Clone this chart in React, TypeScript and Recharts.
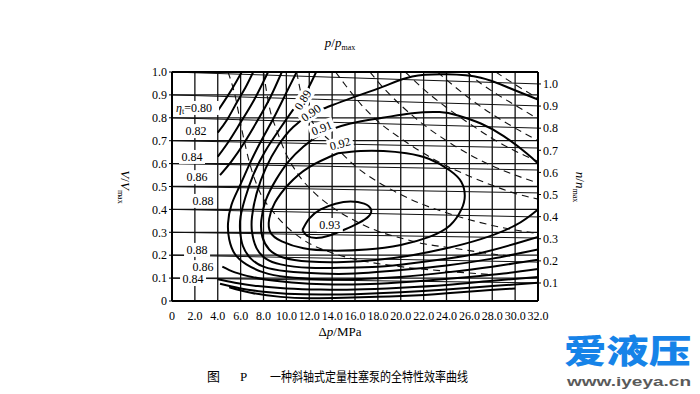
import React from 'react';
import { ComposedChart, Line, XAxis, YAxis, CartesianGrid, ReferenceDot } from 'recharts';

type Pt = [number, number];

// axes
const dpTicks = [0, 2, 4, 6, 8, 10, 12, 14, 16, 18, 20, 22, 24, 26, 28, 30, 32];
const vTicks = [0, 0.1, 0.2, 0.3, 0.4, 0.5, 0.6, 0.7, 0.8, 0.9, 1.0];
const nTicks = [0.1, 0.2, 0.3, 0.4, 0.5, 0.6, 0.7, 0.8, 0.9, 1.0];
const pTickAt = [4.8, 8.0, 11.1, 14.3, 17.3, 20.4, 23.3, 25.7];
const pTickText = ['0.2', '0.3', '0.4', '0.5', '0.6', '0.7', '0.8', '0.9'];

// n/nmax lines: V/Vmax at dp = 0 and at dp = 32
const nLineStart = [0.1, 0.2, 0.3, 0.4, 0.5, 0.6, 0.7, 0.8, 0.9, 1.0];
const nLineEnd = [0.079, 0.17, 0.275, 0.367, 0.472, 0.572, 0.668, 0.755, 0.852, 0.948];

// efficiency contours (dp MPa, V/Vmax)
const eta80: Pt[] = [[4.0, 0.83], [4.6, 0.875], [5.3, 0.93], [6.1, 1.0]];
const eta80low: Pt[] = [[5, 0.06], [7, 0.035], [9.5, 0.018], [12, 0.012], [15, 0.014], [19, 0.02], [23, 0.03], [27, 0.045], [30, 0.055]];
const eta82: Pt[] = [[4.0, 0.735], [4.8, 0.79], [5.7, 0.87], [6.4, 0.93], [7.1, 1.0]];
const eta82low: Pt[] = [[4.2, 0.075], [6, 0.055], [8, 0.04], [10, 0.032], [13, 0.028], [16, 0.03], [20, 0.038], [24, 0.05], [28, 0.065], [32, 0.08]];
const eta84: Pt[] = [[4.0, 0.63], [5.0, 0.7], [6.0, 0.78], [7.2, 0.88], [8.4, 1.0]];
const eta84low: Pt[] = [[4.0, 0.095], [5.5, 0.08], [7.5, 0.065], [10, 0.055], [13, 0.05], [16, 0.05], [20, 0.058], [24, 0.07], [28, 0.088], [32, 0.105]];
const eta86: Pt[] = [[4.2, 0.55], [5.2, 0.61], [6.3, 0.69], [7.5, 0.79], [8.6, 0.89], [9.6, 1.0]];
const eta86low: Pt[] = [[4.4, 0.15], [5.5, 0.125], [7, 0.105], [9, 0.088], [12, 0.075], [15, 0.072], [18, 0.075], [22, 0.088], [26, 0.105], [29, 0.12], [32, 0.14]];
const eta88: Pt[] = [
  [10.9, 1.0], [9.9, 0.9], [8.9, 0.8], [7.8, 0.7], [6.8, 0.6], [5.9, 0.5], [5.2, 0.42], [4.9, 0.34],
  [5.0, 0.27], [5.5, 0.205], [6.5, 0.16], [8, 0.125], [10, 0.105], [13, 0.095], [16, 0.095],
  [20, 0.105], [24, 0.125], [28, 0.15], [32, 0.18],
];
const eta89: Pt[] = [
  [12.6, 1.0], [11.8, 0.92], [10.8, 0.85], [9.4, 0.75], [8.1, 0.65], [7.1, 0.55], [6.4, 0.45], [6.0, 0.37],
  [5.95, 0.31], [6.2, 0.24], [6.9, 0.185], [8, 0.15], [10, 0.13], [13, 0.12], [16, 0.12], [20, 0.135],
  [24, 0.155], [28, 0.185], [32, 0.225],
];
const eta90: Pt[] = [
  [32, 0.88], [29.5, 0.93], [27, 0.975], [24, 0.99], [21, 0.98], [18.4, 0.935], [15.6, 0.885], [13.5, 0.845],
  [12.1, 0.815], [10.6, 0.76], [9.3, 0.68], [8.2, 0.58], [7.4, 0.47], [7.0, 0.37], [7.0, 0.3], [7.4, 0.23],
  [8.2, 0.185], [9.5, 0.16], [12, 0.145], [15, 0.145], [18, 0.15], [21, 0.165], [24, 0.185], [27, 0.21],
  [30, 0.25], [32, 0.28],
];
const eta91: Pt[] = [
  [32, 0.6], [31, 0.645], [29, 0.72], [27, 0.775], [25, 0.81], [23.4, 0.825], [21, 0.82], [18.4, 0.8],
  [15.6, 0.775], [13.1, 0.73], [11.5, 0.675], [10.2, 0.61], [9.1, 0.53], [8.2, 0.44], [7.8, 0.35],
  [7.9, 0.28], [8.5, 0.225], [9.7, 0.19], [12, 0.172], [15, 0.17], [18, 0.18], [21, 0.2], [24, 0.23],
  [27, 0.27], [30, 0.33], [32, 0.4],
];
const eta92: Pt[] = [
  [14.5, 0.645], [16.5, 0.655], [18.5, 0.655], [20.5, 0.645], [22.5, 0.62], [24.3, 0.57], [25.3, 0.52],
  [25.6, 0.46], [25.3, 0.4], [24.3, 0.33], [22.5, 0.28], [20, 0.245], [17, 0.225], [14, 0.22], [11.5, 0.23],
  [9.6, 0.26], [8.6, 0.3], [8.5, 0.36], [9, 0.43], [10.2, 0.51], [12, 0.585], [14.5, 0.645],
];
const eta93: Pt[] = [
  [11.4, 0.31], [12, 0.36], [13, 0.4], [14.3, 0.425], [15.6, 0.435], [16.8, 0.425], [17.4, 0.4], [17.2, 0.37],
  [16.3, 0.34], [15, 0.31], [13.7, 0.285], [12.6, 0.275], [11.8, 0.285], [11.4, 0.31],
];

// constant power lines (dashed)
const pow02: Pt[] = [[4.9, 1.0], [5.5, 0.9], [6.1, 0.75], [6.8, 0.6], [7.6, 0.485], [9, 0.38], [11.4, 0.27], [14, 0.21], [16.2, 0.18], [20, 0.15], [24, 0.13], [28, 0.115]];
const pow03: Pt[] = [[8.0, 1.0], [8.5, 0.85], [9.2, 0.74], [10, 0.64], [11, 0.555], [12.5, 0.47], [14, 0.41], [16, 0.35], [18, 0.305], [20, 0.275], [22, 0.25], [24, 0.235], [26, 0.22], [28, 0.205], [30, 0.195]];
const pow04: Pt[] = [[10.9, 1.0], [11.4, 0.88], [12.3, 0.78], [13.8, 0.7], [16, 0.59], [18, 0.52], [20, 0.465], [22, 0.42], [24, 0.385], [26, 0.355], [28, 0.33], [30, 0.31], [32, 0.295]];
const pow05: Pt[] = [[14.3, 1.0], [15.2, 0.94], [16.5, 0.86], [18, 0.785], [20, 0.71], [22, 0.645], [24, 0.59], [26, 0.545], [28, 0.505], [30, 0.47], [32, 0.445]];
const pow06: Pt[] = [[17.3, 1.0], [18.5, 0.93], [20, 0.855], [22, 0.77], [24, 0.7], [26, 0.64], [28, 0.59], [30, 0.55], [32, 0.515]];
const pow07: Pt[] = [[20.4, 1.0], [22, 0.925], [24, 0.845], [26, 0.775], [28, 0.71], [30, 0.655], [32, 0.61]];
const pow08: Pt[] = [[23.2, 1.0], [24.5, 0.945], [26, 0.885], [28, 0.815], [30, 0.755], [32, 0.7]];
const pow09: Pt[] = [[25.8, 1.0], [27, 0.95], [28.5, 0.9], [30, 0.855], [32, 0.795]];
const pow10: Pt[] = [[28.3, 1.0], [30, 0.945], [32, 0.885]];

// contour labels
const tagText = ['0.82', '0.84', '0.86', '0.88', '0.88', '0.86', '0.84', '0.89', '0.90', '0.91', '0.92', '0.93'];
const tagAt: Pt[] = [
  [2.1, 0.742], [1.75, 0.629], [2.19, 0.541], [2.7, 0.437], [2.19, 0.223], [2.7, 0.148], [1.84, 0.096],
  [11.45, 0.878], [12.15, 0.821], [13.1, 0.755], [14.7, 0.686], [13.8, 0.332],
];
const tagTilt = [0, 0, 0, 0, 0, 0, 0, -58, -35, -22, -15, 0];

const contours = [eta80, eta80low, eta82, eta82low, eta84, eta84low, eta86, eta86low, eta88, eta89, eta90, eta91, eta92, eta93];
const powerLines = [pow02, pow03, pow04, pow05, pow06, pow07, pow08, pow09, pow10];

const serif = '"Liberation Serif", "DejaVu Serif", serif';
const cjk = '"Noto Sans CJK SC", sans-serif';

const toData = (p: Pt[]) => p.map(([x, y]) => ({ x, y }));
const fmt = (v: number) => (v === 0 ? '0' : v.toFixed(1));

const Tag = ({ cx, cy, text, angle }: { cx: number; cy: number; text: string; angle: number }) => {
  const w = text.length * 6 + 2;
  return (
    <g transform={`translate(${cx},${cy}) rotate(${angle})`}>
      <rect x={-w / 2} y={-7} width={w} height={14} fill="#fff" />
      <text textAnchor="middle" dominantBaseline="central" fontSize={12} fontFamily={serif} fill="#000">
        {text}
      </text>
    </g>
  );
};

const EtaTag = ({ cx, cy }: { cx: number; cy: number }) => (
  <g transform={`translate(${cx},${cy})`}>
    <rect x={-22} y={-7} width={44} height={14} fill="#fff" />
    <text x={-21} dominantBaseline="central" fontSize={12} fontFamily={serif} fill="#000">
      <tspan fontStyle="italic">η</tspan>
      <tspan fontSize={8} dy={3}>t</tspan>
      <tspan dy={-3}>=0.80</tspan>
    </text>
  </g>
);

const App: React.FC = () => {
  const tick = { fontSize: 12, fill: '#000', fontFamily: serif };
  return (
    <div style={{ position: 'absolute', left: 0, top: 0, width: 700, height: 394, background: '#fff' }}>
      <ComposedChart width={700} height={394} margin={{ top: 52, right: 132, bottom: 73, left: 150 }}>
        <CartesianGrid stroke="#111" strokeWidth={1.3} />
        <XAxis
          dataKey="x"
          type="number"
          domain={[0, 32]}
          ticks={dpTicks}
          tickFormatter={fmt}
          allowDataOverflow
          interval={0}
          height={20}
          tick={tick}
          tickLine={false}
          tickMargin={4}
          axisLine={{ stroke: '#000', strokeWidth: 2 }}
        />
        <XAxis
          xAxisId="top"
          orientation="top"
          type="number"
          domain={[0, 32]}
          ticks={pTickAt}
          tickFormatter={(v: number) => pTickText[pTickAt.indexOf(v)] ?? ''}
          interval={0}
          height={20}
          tick={tick}
          tickLine={false}
          tickSize={3}
          tickMargin={2}
          axisLine={{ stroke: '#000', strokeWidth: 2 }}
        />
        <YAxis
          type="number"
          domain={[0, 1]}
          ticks={vTicks}
          tickFormatter={fmt}
          allowDataOverflow
          interval={0}
          width={22}
          tick={tick}
          tickSize={3}
          tickMargin={2}
          tickLine={{ stroke: '#000' }}
          axisLine={{ stroke: '#000', strokeWidth: 2 }}
        />
        <YAxis
          yAxisId="right"
          orientation="right"
          type="number"
          domain={[0.0186, 1.054]}
          ticks={nTicks}
          tickFormatter={(v: number) => v.toFixed(1)}
          allowDataOverflow
          interval={0}
          width={30}
          tick={tick}
          tickSize={3}
          tickMargin={2}
          tickLine={{ stroke: '#000' }}
          axisLine={{ stroke: '#000', strokeWidth: 2 }}
        />
        {nLineStart.map((v, i) => (
          <Line
            key={'n' + i}
            data={[{ x: 0, y: v }, { x: 32, y: nLineEnd[i] }]}
            dataKey="y"
            type="linear"
            stroke="#111"
            strokeWidth={1}
            dot={false}
            activeDot={false}
            isAnimationActive={false}
          />
        ))}
        {powerLines.map((p, i) => (
          <Line
            key={'p' + i}
            data={toData(p)}
            dataKey="y"
            type="monotone"
            stroke="#111"
            strokeWidth={1.1}
            strokeDasharray="7 5"
            dot={false}
            activeDot={false}
            isAnimationActive={false}
          />
        ))}
        {contours.map((c, i) => (
          <Line
            key={'c' + i}
            data={toData(c)}
            dataKey="y"
            type="natural"
            stroke="#000"
            strokeWidth={2}
            dot={false}
            activeDot={false}
            isAnimationActive={false}
          />
        ))}
        <ReferenceDot
          x={2.19}
          y={0.843}
          r={0}
          ifOverflow="visible"
          shape={(p: any) => <EtaTag cx={p.cx} cy={p.cy} />}
        />
        {tagText.map((t, i) => (
          <ReferenceDot
            key={'t' + i}
            x={tagAt[i][0]}
            y={tagAt[i][1]}
            r={0}
            ifOverflow="visible"
            shape={(p: any) => <Tag cx={p.cx} cy={p.cy} text={t} angle={tagTilt[i]} />}
          />
        ))}
      </ComposedChart>
      <svg width={700} height={394} style={{ position: 'absolute', left: 0, top: 0, pointerEvents: 'none' }}>
        <text x={340} y={47} textAnchor="middle" fontSize={13} fontFamily={serif}>
          <tspan fontStyle="italic">p</tspan>/<tspan fontStyle="italic">p</tspan>
          <tspan fontSize={8} dy={3}>max</tspan>
        </text>
        <text x={340} y={336} textAnchor="middle" fontSize={13} fontFamily={serif}>
          Δ<tspan fontStyle="italic">p</tspan>/MPa
        </text>
        <text transform="translate(121,187) rotate(90)" textAnchor="middle" fontSize={13} fontFamily={serif}>
          <tspan fontStyle="italic">V</tspan>/<tspan fontStyle="italic">V</tspan>
          <tspan fontSize={8} dy={3}>max</tspan>
        </text>
        <text transform="translate(576,187) rotate(90)" textAnchor="middle" fontSize={13} fontFamily={serif}>
          <tspan fontStyle="italic">n</tspan>/<tspan fontStyle="italic">n</tspan>
          <tspan fontSize={8} dy={3}>max</tspan>
        </text>
        <text x={207} y={381} fontSize={13} fontFamily={cjk}>图</text>
        <text x={240} y={381} fontSize={13} fontFamily={serif}>P</text>
        <text x={270} y={381} fontSize={13} fontFamily={cjk} textLength={198} lengthAdjust="spacingAndGlyphs">
          一种斜轴式定量柱塞泵的全特性效率曲线
        </text>
        <text x={564} y={363} fontSize={33} fontWeight={900} fontFamily={cjk} fill="#1683e8" textLength={127} lengthAdjust="spacingAndGlyphs">
          爱液压
        </text>
        <text x={567} y={386} fontSize={13} fontWeight={700} fontFamily={'"Liberation Sans", Arial, sans-serif'} fill="#5a5a5a" textLength={124} lengthAdjust="spacingAndGlyphs">
          www.iyeya.cn
        </text>
      </svg>
    </div>
  );
};

export default App;
